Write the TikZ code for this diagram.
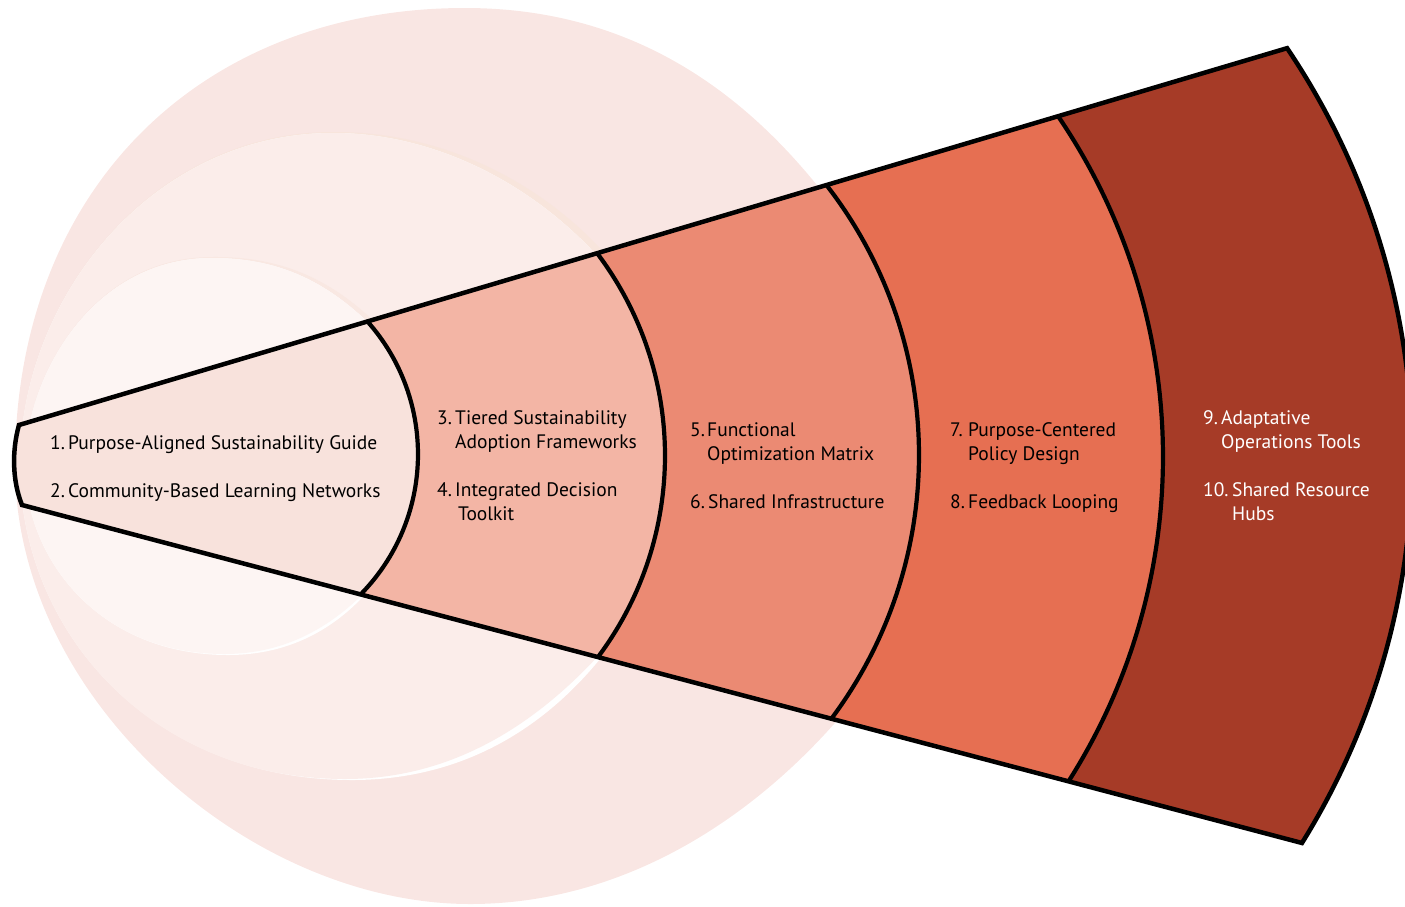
\documentclass[tikz,border=0pt]{standalone}
\usepackage{fontspec}
\setmainfont{PT Sans}
\usetikzlibrary{calc}

% fan segment fills, lightest (innermost) to darkest (outermost)
\definecolor{segA}{HTML}{F8E2DC}
\definecolor{segB}{HTML}{F3B5A5}
\definecolor{segC}{HTML}{EB8A73}
\definecolor{segD}{HTML}{E66F52}
\definecolor{segE}{HTML}{A63B27}
% pale halos behind the fan
\definecolor{haloA}{HTML}{F9E6E3}
\definecolor{haloB}{HTML}{FBEDEA}
\definecolor{haloC}{HTML}{FDF5F3}
\definecolor{haloTint}{HTML}{F8E5DC}

% numbered entry: fixed-width number, then lines aligned after it
\newcommand{\fanitem}[3]{\makebox[#1][l]{#2}\begin{tabular}[t]{@{}l@{}}#3\end{tabular}}

\begin{document}
\begin{tikzpicture}[x=1pt,y=-1pt,
  itemtext/.style={anchor=base west, inner sep=0pt, text=black,
    font=\fontsize{19.5}{24}\selectfont},
  fanline/.style={draw=black, line width=4.5pt, line join=miter},
  divline/.style={draw=black, line width=4.2pt},
]
\useasboundingbox (0,0) rectangle (1405,906);
\clip (0,0) rectangle (1405,906);

% ---- halos behind the fan ----
\fill[haloA] (465,8) .. controls (640,8) and (770,100) .. (870,260)
  -- (870,680) .. controls (780,800) and (640,904) .. (470,904)
  .. controls (250,904) and (15,700) .. (15,465)
  .. controls (15,190) and (200,8) .. (465,8) -- cycle;

% middle halo: tinted rim on top, white rim below
\fill[haloTint] (333,132) .. controls (458,131) and (570,198) .. (634,290)
  -- (625,470) -- (20,465)
  .. controls (20,300) and (150,132) .. (333,132) -- cycle;
\fill[white] (333,133) .. controls (450,133) and (560,200) .. (625,290)
  -- (625,625) .. controls (572,705) and (485,780) .. (352,780)
  .. controls (150,780) and (20,630) .. (20,465)
  .. controls (20,300) and (150,133) .. (333,133) -- cycle;
\fill[haloB] (333,133) .. controls (450,133) and (560,200) .. (625,290)
  -- (625,625) .. controls (560,705) and (470,779) .. (345,779)
  .. controls (150,779) and (20,630) .. (20,465)
  .. controls (20,300) and (150,133) .. (333,133) -- cycle;

% inner halo: tinted rim on top, white rim below
\fill[haloTint!60!haloB] (212,257) .. controls (293,256) and (346,288) .. (397,345)
  -- (390,470) -- (25,465)
  .. controls (25,380) and (90,257) .. (212,257) -- cycle;
\fill[white] (212,258) .. controls (290,258) and (340,290) .. (390,345)
  -- (385,570) .. controls (350,619) and (300,655) .. (228,655)
  .. controls (100,655) and (25,560) .. (25,465)
  .. controls (25,380) and (90,258) .. (212,258) -- cycle;
\fill[haloC] (212,258) .. controls (290,258) and (340,290) .. (390,345)
  -- (385,570) .. controls (345,618) and (295,654) .. (224,654)
  .. controls (100,654) and (25,560) .. (25,465)
  .. controls (25,380) and (90,258) .. (212,258) -- cycle;

% ---- fan geometry ----
\coordinate (T0) at (19,425);
\coordinate (B0) at (22,505);
\coordinate (C1) at (218.2,454.3);
\coordinate (C2) at (329.0,455.7);
\coordinate (C3) at (478.6,455.1);
\coordinate (C4) at (557.8,456.7);
\coordinate (C5) at (680.8,457.1);
\coordinate (T1) at ($(C1)+(-41.7:199.8)$);
\coordinate (T2) at ($(C2)+(-37.1:336.0)$);
\coordinate (T3) at ($(C3)+(-37.8:440.4)$);
\coordinate (T4) at ($(C4)+(-34.26:605.2)$);
\coordinate (T5) at ($(C5)+(-34.0:731.3)$);

% nested fills, outermost first
\fill[segE] (T0) -- (T5) arc[start angle=-34.0, end angle=31.85, radius=731.3]
  -- (B0) .. controls (12,480) and (12,450) .. (T0) -- cycle;
\fill[segD] (T0) -- (T4) arc[start angle=-34.26, end angle=32.5, radius=605.2]
  -- (B0) .. controls (12,480) and (12,450) .. (T0) -- cycle;
\fill[segC] (T0) -- (T3) arc[start angle=-37.8, end angle=36.8, radius=440.4]
  -- (B0) .. controls (12,480) and (12,450) .. (T0) -- cycle;
\fill[segB] (T0) -- (T2) arc[start angle=-37.1, end angle=36.8, radius=336.0]
  -- (B0) .. controls (12,480) and (12,450) .. (T0) -- cycle;
\fill[segA] (T0) -- (T1) arc[start angle=-41.7, end angle=44.6, radius=199.8]
  -- (B0) .. controls (12,480) and (12,450) .. (T0) -- cycle;

% dividing arcs
\draw[divline] (T1) arc[start angle=-41.7, end angle=44.6, radius=199.8];
\draw[divline] (T2) arc[start angle=-37.1, end angle=36.8, radius=336.0];
\draw[divline] (T3) arc[start angle=-37.8, end angle=36.8, radius=440.4];
\draw[divline] (T4) arc[start angle=-34.26, end angle=32.5, radius=605.2];

% outline
\draw[fanline] (T0) -- (T5) arc[start angle=-34.0, end angle=31.85, radius=731.3]
  -- (B0) .. controls (12,480) and (12,450) .. (T0) -- cycle;

% ---- entries ----
\node[itemtext] (i1) at (50,449) {\fanitem{18pt}{1.}{Purpose-Aligned Sustainability Guide}};
\node[itemtext] (i2) at (50,497) {\fanitem{18pt}{2.}{Community-Based Learning Networks}};

\node[itemtext] (i3) at (437,424) {\fanitem{18pt}{3.}{Tiered Sustainability\\Adoption Frameworks}};
\node[itemtext] (i4) at (437,496) {\fanitem{18pt}{4.}{Integrated Decision\\\hspace{3pt}Toolkit}};

\node[itemtext] (i5) at (690,436) {\fanitem{17pt}{5.}{Functional\\Optimization Matrix}};
\node[itemtext] (i6) at (690,508) {\fanitem{18pt}{6.}{Shared Infrastructure}};

\node[itemtext] (i7) at (950,436) {\fanitem{18pt}{7.}{Purpose-Centered\\Policy Design}};
\node[itemtext] (i8) at (950,508) {\fanitem{18pt}{8.}{Feedback Looping}};

\node[itemtext, text=white] (i9) at (1203,424) {\fanitem{18pt}{9.}{Adaptative\\Operations Tools}};
\node[itemtext, text=white] (i10) at (1203,496) {\fanitem{29pt}{10.}{Shared Resource\\Hubs}};
\end{tikzpicture}
\end{document}
